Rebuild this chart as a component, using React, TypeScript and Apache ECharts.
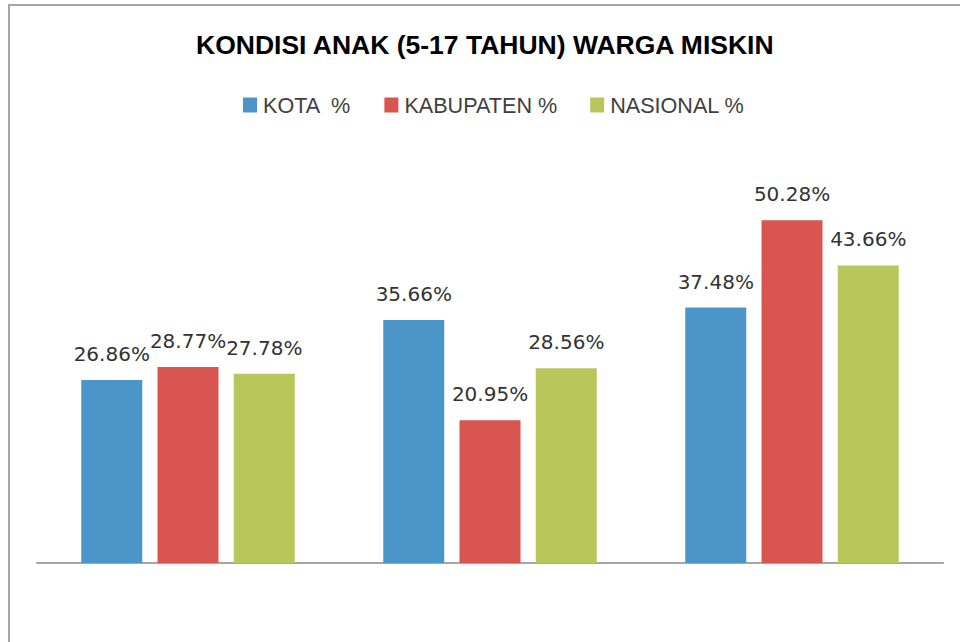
import React, { useEffect, useRef } from "react";
import * as echarts from "echarts";

const title = "KONDISI ANAK (5-17 TAHUN) WARGA MISKIN";
const categories = ["A", "B", "C"];
const seriesNames = ["KOTA  %", "KABUPATEN %", "NASIONAL %"];
const kota = [26.86, 35.66, 37.48];
const kabupaten = [28.77, 20.95, 50.28];
const nasional = [27.78, 28.56, 43.66];
const colors = ["#4B95C9", "#D95550", "#B8C75A"];

export default function App() {
  const ref = useRef<HTMLDivElement>(null);
  useEffect(() => {
    if (!ref.current) return;
    const chart = echarts.init(ref.current, null, { renderer: "svg" });
    const values = [kota, kabupaten, nasional];
    chart.setOption({
      animation: false,
      backgroundColor: "#ffffff",
      title: {
        text: title,
        left: 196,
        top: 31,
        padding: 0,
        textStyle: {
          fontFamily: "Liberation Sans, Arial, sans-serif",
          fontWeight: "bold",
          fontSize: 26.5,
          color: "#000000",
        },
      },
      legend: {
        left: 243,
        top: 94,
        padding: 0,
        itemWidth: 14,
        itemHeight: 15,
        itemGap: 33,
        icon: "rect",
        data: seriesNames,
        textStyle: {
          fontFamily: "Liberation Sans, Arial, sans-serif",
          fontSize: 21.6,
          color: "#404040",
          padding: [0, 0, 0, 1],
        },
      },
      graphic: [
        {
          type: "polyline",
          shape: { points: [[9, 642], [9, 5], [960, 5]] },
          style: { stroke: "#A6A6A6", lineWidth: 2, fill: "none" },
          silent: true,
        },
      ],
      grid: { left: 37, right: 17, top: 154, bottom: 79, containLabel: false },
      xAxis: {
        type: "category",
        data: categories,
        axisLine: { show: true, lineStyle: { color: "#A6A6A6", width: 2 } },
        axisTick: { show: false },
        axisLabel: { show: false },
      },
      yAxis: {
        type: "value",
        min: 0,
        max: 60,
        interval: 10,
        show: false,
        splitLine: { show: false },
      },
      series: seriesNames.map((name, i) => ({
        name,
        type: "bar",
        data: values[i],
        barWidth: 61,
        barGap: "25%",
        itemStyle: { color: colors[i] },
        label: {
          show: true,
          position: "top",
          distance: 16,
          formatter: (p: any) => `${p.value.toFixed(2)}%`,
          fontFamily: "DejaVu Sans, sans-serif",
          fontSize: 20,
          color: "#333333",
        },
      })),
    });
    return () => chart.dispose();
  }, []);
  return (
    <div
      ref={ref}
      style={{ position: "fixed", left: 0, top: 0, width: 960, height: 642, background: "#fff" }}
    />
  );
}
